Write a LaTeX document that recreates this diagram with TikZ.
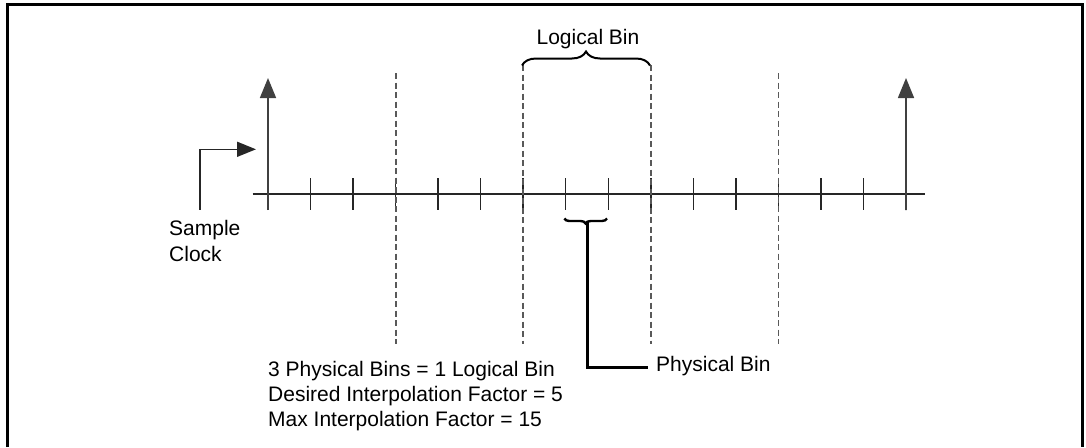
\documentclass[tikz,border=0pt]{standalone}
\usepackage{fontspec}
\setmainfont{Liberation Sans}
\usetikzlibrary{arrows.meta,decorations.pathreplacing}
\begin{document}
\begin{tikzpicture}[x=1pt,y=-1pt,
  axisline/.style={line width=1.6pt,draw=black!85},
  tickmark/.style={line width=1.5pt,draw=black!85},
  binsep/.style={line width=1.8pt,draw=black!65,dash pattern=on 6pt off 3.5pt},
  pulse/.style={line width=1.6pt,draw=black!75,-{Triangle[length=20pt,width=16pt]}},
  clockarrow/.style={line width=1.6pt,draw=black!85,-{Triangle[length=19pt,width=15pt]}},
  bigbrace/.style={line width=2pt,decorate,decoration={brace,amplitude=14pt}},
  smallbrace/.style={line width=2.4pt,decorate,decoration={brace,amplitude=5pt,mirror}},
  leader/.style={line width=3pt},
  lbl/.style={font=\fontsize{21}{25}\selectfont,inner sep=0pt,anchor=base west}]
\useasboundingbox (0,0) rectangle (1086,447);
% frame, open at the bottom
\draw[line width=3pt] (7.5,447) -- (7.5,4.5) -- (1082.5,4.5) -- (1082.5,447);

% time axis
\coordinate (axL) at (252.7,194);
\coordinate (axR) at (924.5,194);
\draw[axisline] (axL) -- (axR);

% physical bin ticks
\foreach \i in {0,...,15}{
  \pgfmathsetmacro\tx{268+42.533*\i}
  \coordinate (t\i) at (\tx,194);
  \coordinate (t\i a) at (\tx,178);
  \coordinate (t\i b) at (\tx,210);
  \draw[tickmark] (t\i a) -- (t\i b);
}

% logical bin separators
\foreach \i/\top in {3/73,6/65,9/65,12/73}{
  \pgfmathsetmacro\tx{268+42.533*\i}
  \coordinate (d\i a) at (\tx,\top);
  \coordinate (d\i b) at (\tx,344);
  \draw[binsep] (d\i a) -- (d\i b);
}

% sample clock pulses
\coordinate (p0) at (268,78);
\coordinate (p15) at (906,78);
\draw[pulse] (t0b) -- (p0);
\draw[pulse] (t15b) -- (p15);

% sample clock pointer
\coordinate (sc0) at (200,209.5);
\coordinate (sc1) at (256,149.3);
\draw[clockarrow] (sc0) |- (sc1);
\node[lbl] (samp) at (169,235.7) {Sample};
\node[lbl] (clk) at (169,261) {Clock};

% logical bin brace
\coordinate (lb0) at (522,65.5);
\coordinate (lb1) at (650,65.5);
\draw[bigbrace] (lb0) -- (lb1);
\node[lbl,anchor=base] (logical) at (588,44.3) {Logical Bin};

% physical bin bracket and leader
\coordinate (pb0) at (564.3,218.5);
\coordinate (pb1) at (607,218.5);
\draw[smallbrace] (pb0) -- (pb1);
\coordinate (pbtip) at (587.3,222);
\coordinate (pbend) at (648,367.5);
\draw[leader] (pbtip) |- (pbend);
\node[lbl] (physical) at (656,371) {Physical Bin};

% notes
\node[lbl] (n1) at (268,376) {3 Physical Bins = 1 Logical Bin};
\node[lbl] (n2) at (268,401) {Desired Interpolation Factor = 5};
\node[lbl] (n3) at (268,426) {Max Interpolation Factor = 15};
\end{tikzpicture}
\end{document}
